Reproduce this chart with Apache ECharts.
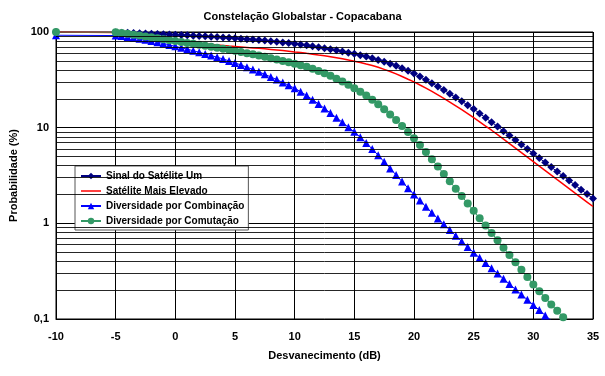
<!DOCTYPE html>
<html>
<head>
<meta charset="utf-8">
<script src="https://cdn.jsdelivr.net/npm/echarts@6/dist/echarts.min.js"></script>
<style>
html,body{margin:0;padding:0;background:#fff;}
#chart{width:605px;height:376px;}
</style>
</head>
<body>
<div id="chart"></div>
<script>
// Fade depth (dB)
const xs = [-10,
  -5,-4.5,-4,-3.5,-3,-2.5,-2,-1.5,-1,-0.5,
  0,0.5,1,1.5,2,2.5,3,3.5,4,4.5,
  5,5.5,6,6.5,7,7.5,8,8.5,9,9.5,
  10,10.5,11,11.5,12,12.5,13,13.5,14,14.5,
  15,15.5,16,16.5,17,17.5,18,18.5,19,19.5,
  20,20.5,21,21.5,22,22.5,23,23.5,24,24.5,
  25,25.5,26,26.5,27,27.5,28,28.5,29,29.5,
  30,30.5,31,31.5,32,32.5,33,33.5,34,34.5,35];

// Probability (%) per series, aligned with xs
const sinalSateliteUm = [100,
  99.0,98.5,98.0,97.5,97.0,96.5,96.0,95.5,95.0,94.4,
  93.8,93.1,92.4,91.6,90.9,90.1,89.3,88.5,87.7,86.9,
  86.0,85.1,84.2,83.3,82.3,81.3,80.2,79.1,77.9,76.7,
  75.4,74.0,72.5,71.0,69.4,67.8,66.1,64.4,62.6,60.8,
  59.1,57.3,55.3,53.2,51.1,48.9,46.6,44.3,41.9,39.4,
  36.8,34.2,31.6,29.2,26.9,24.7,22.6,20.7,18.9,17.2,
  15.7,14.1,12.7,11.4,10.3,9.20,8.26,7.41,6.65,5.97,
  5.36,4.81,4.32,3.87,3.48,3.12,2.80,2.51,2.25,2.02,1.82];

const sateliteMaisElevado = [100,
  98.9,96.6,94.4,92.3,90.2,88.1,86.3,84.7,83.2,81.7,
  80.4,79.3,78.2,77.1,76.0,75.0,74.0,73.1,72.3,71.4,
  70.6,69.8,69.0,68.2,67.5,66.7,65.8,64.9,64.0,63.0,
  61.9,61.0,59.8,58.7,57.5,56.4,55.1,53.8,52.5,51.1,
  49.5,48.0,46.3,44.7,42.8,40.7,38.6,36.5,34.3,32.1,
  30.1,27.9,25.9,23.9,22.0,20.2,18.5,16.9,15.4,14.0,
  12.7,11.5,10.4,9.40,8.45,7.59,6.81,6.11,5.48,4.92,
  4.42,3.96,3.56,3.19,2.86,2.57,2.31,2.07,1.86,1.67,1.50];

const diversidadeCombinacao = [92.5,
  91.8,90.6,88.9,87.1,85.1,83.0,80.7,78.3,75.9,73.3,
  70.8,68.4,66.1,63.7,61.4,59.0,56.8,54.5,52.2,49.9,
  47.5,45.2,42.9,40.6,38.3,36.1,33.9,31.8,29.7,27.7,
  25.8,23.8,21.7,19.6,17.7,15.9,14.2,12.7,11.4,10.1,
  9.04,7.94,6.92,5.98,5.14,4.40,3.75,3.20,2.73,2.33,
  2.00,1.73,1.49,1.29,1.12,0.977,0.851,0.741,0.647,0.565,
  0.494,0.436,0.384,0.339,0.299,0.263,0.232,0.204,0.180,0.159,
  0.140,0.124,0.109,0.0964];

const diversidadeComutacao = [100,
  99.5,97.7,95.7,93.8,91.8,89.7,87.9,85.9,84.1,82.2,
  80.5,78.7,76.9,75.2,73.5,71.8,70.1,68.5,66.8,65.2,
  63.5,61.8,60.1,58.5,56.8,55.1,53.3,51.6,49.9,48.2,
  46.5,45.0,43.3,41.3,39.2,37.0,34.8,32.5,30.3,28.1,
  25.9,23.8,21.7,19.6,17.6,15.6,13.7,12.0,10.4,9.02,
  7.73,6.58,5.56,4.68,3.92,3.28,2.75,2.30,1.93,1.61,
  1.35,1.13,0.948,0.794,0.665,0.557,0.467,0.391,0.327,0.274,
  0.230,0.195,0.166,0.142,0.122,0.104,0.089];

// Minor log gridlines (2..9 of each decade)
const minorGridValues = [0.2,0.3,0.4,0.5,0.6,0.7,0.8,0.9,
  2,3,4,5,6,7,8,9, 20,30,40,50,60,70,80,90];

const seriesNames = ['Sinal do Satélite Um','Satélite Mais Elevado',
  'Diversidade por Combinação','Diversidade por Comutação'];

const pair = arr => arr.map((v, i) => [xs[i], v]);
const FONT = 'Liberation Sans, Arial, sans-serif';
const lineOnlyIcon = 'path://M0,0 M0,3.25 L20,3.25 L20,4.75 L0,4.75 Z M20,8';

const chart = echarts.init(document.getElementById('chart'), null, {renderer: 'canvas'});
chart.setOption({
  animation: false,
  backgroundColor: '#fff',
  title: {
    text: 'Constelação Globalstar - Copacabana',
    left: 'center', top: 6,
    textStyle: {fontFamily: FONT, fontSize: 11, fontWeight: 'bold', color: '#000'}
  },
  grid: {left: 56, right: 12, top: 32, bottom: 57, show: true, borderColor: '#000', borderWidth: 1},
  legend: {
    data: [
      {name: seriesNames[0]},
      {name: seriesNames[1], icon: lineOnlyIcon},
      {name: seriesNames[2]},
      {name: seriesNames[3]}
    ],
    orient: 'vertical',
    left: 75, top: 166,
    padding: [4, 4, 3, 5],
    itemGap: 3,
    itemWidth: 20, itemHeight: 8,
    backgroundColor: '#fff',
    borderColor: '#555', borderWidth: 1, borderRadius: 0,
    textStyle: {fontFamily: FONT, fontSize: 10, fontWeight: 'bold', color: '#000', lineHeight: 12}
  },
  xAxis: {
    type: 'value', min: -10, max: 35, interval: 5,
    name: 'Desvanecimento (dB)', nameLocation: 'middle', nameGap: 31,
    nameTextStyle: {fontFamily: FONT, fontSize: 11, fontWeight: 'bold', color: '#000'},
    axisLine: {lineStyle: {color: '#000', width: 1}},
    axisTick: {show: false},
    axisLabel: {fontFamily: FONT, fontSize: 11, fontWeight: 'bold', color: '#000', margin: 12},
    splitLine: {show: true, lineStyle: {color: '#000', width: 1}}
  },
  yAxis: {
    type: 'log', logBase: 10, min: 0.1, max: 100,
    name: 'Probabilidade (%)', nameLocation: 'middle', nameGap: 35,
    nameTextStyle: {fontFamily: FONT, fontSize: 11, fontWeight: 'bold', color: '#000'},
    axisLine: {show: true, lineStyle: {color: '#000', width: 1}},
    axisTick: {show: false},
    axisLabel: {
      fontFamily: FONT, fontSize: 11, fontWeight: 'bold', color: '#000', margin: 7,
      formatter: v => (Math.abs(v - 0.1) < 1e-9 ? '0,1' : String(Math.round(v)))
    },
    splitLine: {show: true, lineStyle: {color: '#000', width: 1}}
  },
  series: [
    {
      name: 'minorGrid', type: 'line', data: [[-10, 100]], symbol: 'none',
      lineStyle: {opacity: 0}, silent: true, z: 1,
      markLine: {
        silent: true, symbol: ['none', 'none'], label: {show: false},
        lineStyle: {color: '#000', type: 'solid', width: 1, opacity: 0.85},
        emphasis: {disabled: true},
        data: minorGridValues.map(v => ({yAxis: v}))
      }
    },
    {
      name: seriesNames[0], type: 'line', data: pair(sinalSateliteUm),
      symbol: 'diamond', symbolSize: 8, z: 3,
      itemStyle: {color: '#000080'}, lineStyle: {color: '#000080', width: 1}
    },
    {
      name: seriesNames[1], type: 'line', data: pair(sateliteMaisElevado),
      symbol: 'none', z: 3,
      itemStyle: {color: '#ff0000'}, lineStyle: {color: '#ff0000', width: 1.5}
    },
    {
      name: seriesNames[2], type: 'line', data: pair(diversidadeCombinacao),
      symbol: 'triangle', symbolSize: 8, z: 3,
      itemStyle: {color: '#0000ff'}, lineStyle: {color: '#0000ff', width: 1}
    },
    {
      name: seriesNames[3], type: 'line', data: pair(diversidadeComutacao),
      symbol: 'circle', symbolSize: 8, z: 3,
      itemStyle: {color: '#339966'}, lineStyle: {color: '#339966', width: 1}
    }
  ]
});
</script>
</body>
</html>
